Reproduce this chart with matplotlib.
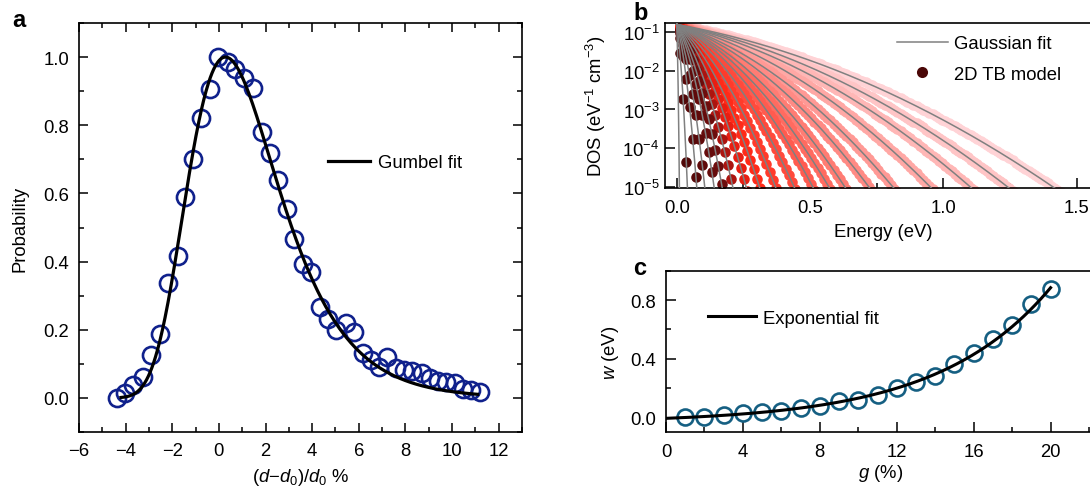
import numpy as np
import matplotlib
matplotlib.use('Agg')
import matplotlib.pyplot as plt
from matplotlib.colors import LinearSegmentedColormap
from matplotlib.ticker import MultipleLocator, FormatStrFormatter, LogLocator, NullFormatter
from matplotlib.lines import Line2D

plt.rcParams['font.family'] = ['Liberation Sans', 'DejaVu Sans']
plt.rcParams['mathtext.fontset'] = 'custom'
plt.rcParams['mathtext.rm'] = 'Liberation Sans'
plt.rcParams['mathtext.it'] = 'Liberation Sans:italic'
plt.rcParams['mathtext.bf'] = 'Liberation Sans:bold'
plt.rcParams['font.size'] = 13.3

# ---------------- Panel a data ----------------
strain_pct = [-4.39, -4.03, -3.67, -3.27, -2.91, -2.53, -2.17, -1.77, -1.46, -1.13,
              -0.77, -0.39, -0.03, 0.37, 0.70, 1.09, 1.47, 1.83, 2.19, 2.54,
              2.90, 3.23, 3.61, 3.97, 4.33, 4.69, 5.04, 5.47, 5.80, 6.16,
              6.51, 6.87, 7.23, 7.59, 7.94, 8.30, 8.69, 9.04, 9.40, 9.76,
              10.11, 10.47, 10.83, 11.21]
probability = [0.000, 0.015, 0.037, 0.060, 0.125, 0.187, 0.336, 0.416, 0.590, 0.700,
               0.820, 0.907, 0.999, 0.987, 0.966, 0.938, 0.909, 0.780, 0.718, 0.640,
               0.553, 0.466, 0.393, 0.370, 0.267, 0.233, 0.199, 0.221, 0.194, 0.133,
               0.110, 0.091, 0.120, 0.088, 0.083, 0.078, 0.074, 0.057, 0.050, 0.047,
               0.045, 0.025, 0.023, 0.018]
gumbel_mu = 0.28
gumbel_beta = 1.95
gumbel_range = (-4.2, 11.1)

# ---------------- Panel b data ----------------
g_series = list(range(1, 21))
tail_energy_eV = [0.01, 0.04, 0.075, 0.105, 0.14, 0.17, 0.21, 0.26, 0.31, 0.37,
                  0.44, 0.51, 0.57, 0.63, 0.72, 0.81, 0.95, 1.10, 1.24, 1.41]
dos_edge = 0.16
dos_floor = 1e-5
gauss_offset = 0.363
tb_energy_start = 0.012
tb_energy_step = 0.012

# ---------------- Panel c data ----------------
g_pct = list(range(1, 21))
w_eV = [0.002, 0.007, 0.018, 0.030, 0.040, 0.048, 0.063, 0.080, 0.113, 0.120,
        0.154, 0.200, 0.240, 0.286, 0.363, 0.442, 0.533, 0.630, 0.771, 0.873]
exp_A, exp_b, exp_C = 0.0307, 0.17, -0.0357

# ---------------- Figure ----------------
W, H = 1090, 489
fig = plt.figure(figsize=(W / 100, H / 100), dpi=100)


def px_axes(left, top, right, bottom):
    return fig.add_axes([left / W, (H - bottom) / H, (right - left) / W, (bottom - top) / H])


def style_ticks(ax, major=6, minor=3.2, pad=6):
    ax.tick_params(which='both', direction='in', width=1.1, pad=pad)
    ax.tick_params(which='major', length=major)
    ax.tick_params(which='minor', length=minor)
    for s in ax.spines.values():
        s.set_linewidth(1.2)


# Panel a
ax_a = px_axes(79, 24, 522, 433)
xf = np.linspace(gumbel_range[0], gumbel_range[1], 600)
z = (xf - gumbel_mu) / gumbel_beta
ax_a.plot(xf, np.exp(1 - z - np.exp(-z)), color='black', lw=2.3, label='Gumbel fit', zorder=3)
ax_a.plot(strain_pct, probability, 'o', ms=12.3, mfc='none', mec='#10218c', mew=1.9, zorder=2)
ax_a.set_xlim(-6, 13)
ax_a.set_ylim(-0.1, 1.1)
ax_a.set_xticks(np.arange(-6, 13, 2))
ax_a.set_yticks(np.arange(0, 1.01, 0.2))
ax_a.xaxis.set_minor_locator(MultipleLocator(1))
ax_a.yaxis.set_minor_locator(MultipleLocator(0.1))
ax_a.yaxis.set_major_formatter(FormatStrFormatter('%.1f'))
style_ticks(ax_a, major=6.5, minor=3.8, pad=7)
ax_a.tick_params(which='both', top=True, right=True)
ax_a.set_ylabel('Probability')
ax_a.yaxis.set_label_coords(-0.113, 0.5)
ax_a.set_xlabel(r'$(d{-}d_0)/d_0$ %')
ax_a.xaxis.set_label_coords(0.5, -0.083)
ax_a.legend(loc='center left', bbox_to_anchor=(0.562, 0.658), frameon=False,
            borderpad=0, borderaxespad=0, handlelength=2.3, handletextpad=0.42)

# Panel b
ax_b = px_axes(665, 24, 1090, 189)
cmap = LinearSegmentedColormap.from_list(
    'dos', [(0.0, '#4a0707'), (0.27, '#6e0d0d'), (0.35, '#e01a10'), (0.42, '#ff2a18'),
            (0.7, '#ff8078'), (1.0, '#ffd3d6')])
ef = np.linspace(0, 1.6, 1200)
n = len(g_series)
s2 = (1 + 2 * gauss_offset) / (2 * np.log(dos_edge / dos_floor))
for i in reversed(range(n)):
    T = tail_energy_eV[i]
    e_tb = np.arange(tb_energy_start, 1.6, tb_energy_step)
    u = e_tb / T
    d_tb = dos_edge * np.exp(-(u ** 2 + 2 * gauss_offset * u) / (2 * s2))
    keep = d_tb > 6e-6
    ax_b.plot(e_tb[keep], d_tb[keep], 'o', ms=7.6, mec='none', color=cmap(i / (n - 1)), zorder=2)
for i in range(n):
    T = tail_energy_eV[i]
    u = ef / T
    d_fit = dos_edge * np.exp(-(u ** 2 + 2 * gauss_offset * u) / (2 * s2))
    ax_b.plot(ef, d_fit, color='#808080', lw=1.1, zorder=3)
ax_b.set_yscale('log')
ax_b.set_xlim(-0.044, 1.55)
ax_b.set_ylim(10 ** -5.034, 10 ** -0.759)
ax_b.set_yticks([1e-5, 1e-4, 1e-3, 1e-2, 1e-1])
ax_b.yaxis.set_minor_locator(LogLocator(base=10, subs=np.arange(2, 10)))
ax_b.yaxis.set_minor_formatter(NullFormatter())
ax_b.set_xticks([0.0, 0.5, 1.0, 1.5])
ax_b.xaxis.set_minor_locator(MultipleLocator(0.25))
ax_b.xaxis.set_major_formatter(FormatStrFormatter('%.1f'))
style_ticks(ax_b, major=7.5, minor=3.8)
ax_b.tick_params(axis='y', pad=4)
ax_b.tick_params(axis='x', pad=8)
ax_b.spines['right'].set_visible(False)
ax_b.set_ylabel(r'DOS (eV$^{-1}$ cm$^{-3}$)')
ax_b.yaxis.set_label_coords(-0.135, 0.5)
ax_b.set_xlabel('Energy (eV)')
ax_b.xaxis.set_label_coords(0.513, -0.21)
h_b = [Line2D([], [], color='#808080', lw=1.1),
       Line2D([], [], ls='none', marker='o', ms=8, mec='none', color=cmap(0.0))]
ax_b.legend(h_b, ['Gaussian fit', '2D TB model'], loc='center left',
            bbox_to_anchor=(0.546, 0.782), frameon=False, borderpad=0, borderaxespad=0,
            handlelength=2.75, handletextpad=0.35, labelspacing=0.75)

# Panel c
ax_c = px_axes(666, 271.7, 1090, 433.3)
gf = np.linspace(0, 20, 400)
ax_c.plot(gf, exp_A * np.exp(exp_b * gf) + exp_C, color='black', lw=2.2, label='Exponential fit', zorder=3)
ax_c.plot(g_pct, w_eV, 'o', ms=11.5, mfc='none', mec='#155f82', mew=1.9, zorder=2)
ax_c.set_xlim(0, 22.05)
ax_c.set_ylim(-0.1, 1.0)
ax_c.set_xticks(np.arange(0, 21, 4))
ax_c.xaxis.set_minor_locator(MultipleLocator(2))
ax_c.set_yticks([0.0, 0.4, 0.8])
ax_c.yaxis.set_minor_locator(MultipleLocator(0.2))
ax_c.yaxis.set_major_formatter(FormatStrFormatter('%.1f'))
style_ticks(ax_c, major=7.5, minor=3.5)
ax_c.tick_params(axis='y', pad=7)
ax_c.tick_params(axis='x', pad=8)
ax_c.spines['right'].set_visible(False)
ax_c.set_ylabel(r'$w$ (eV)')
ax_c.yaxis.set_label_coords(-0.106, 0.5)
ax_c.set_xlabel(r'$g$ (%)')
ax_c.xaxis.set_label_coords(0.505, -0.185)
ax_c.legend(loc='center left', bbox_to_anchor=(0.098, 0.707), frameon=False,
            borderpad=0, borderaxespad=0, handlelength=2.6, handletextpad=0.4)

# Panel labels
for lab, x, y in [('a', 12, 27), ('b', 633, 20), ('c', 633, 275)]:
    fig.text(x / W, 1 - y / H, lab, fontsize=17, fontweight='bold', va='baseline', ha='left')

fig.savefig('out.png', dpi=100)
